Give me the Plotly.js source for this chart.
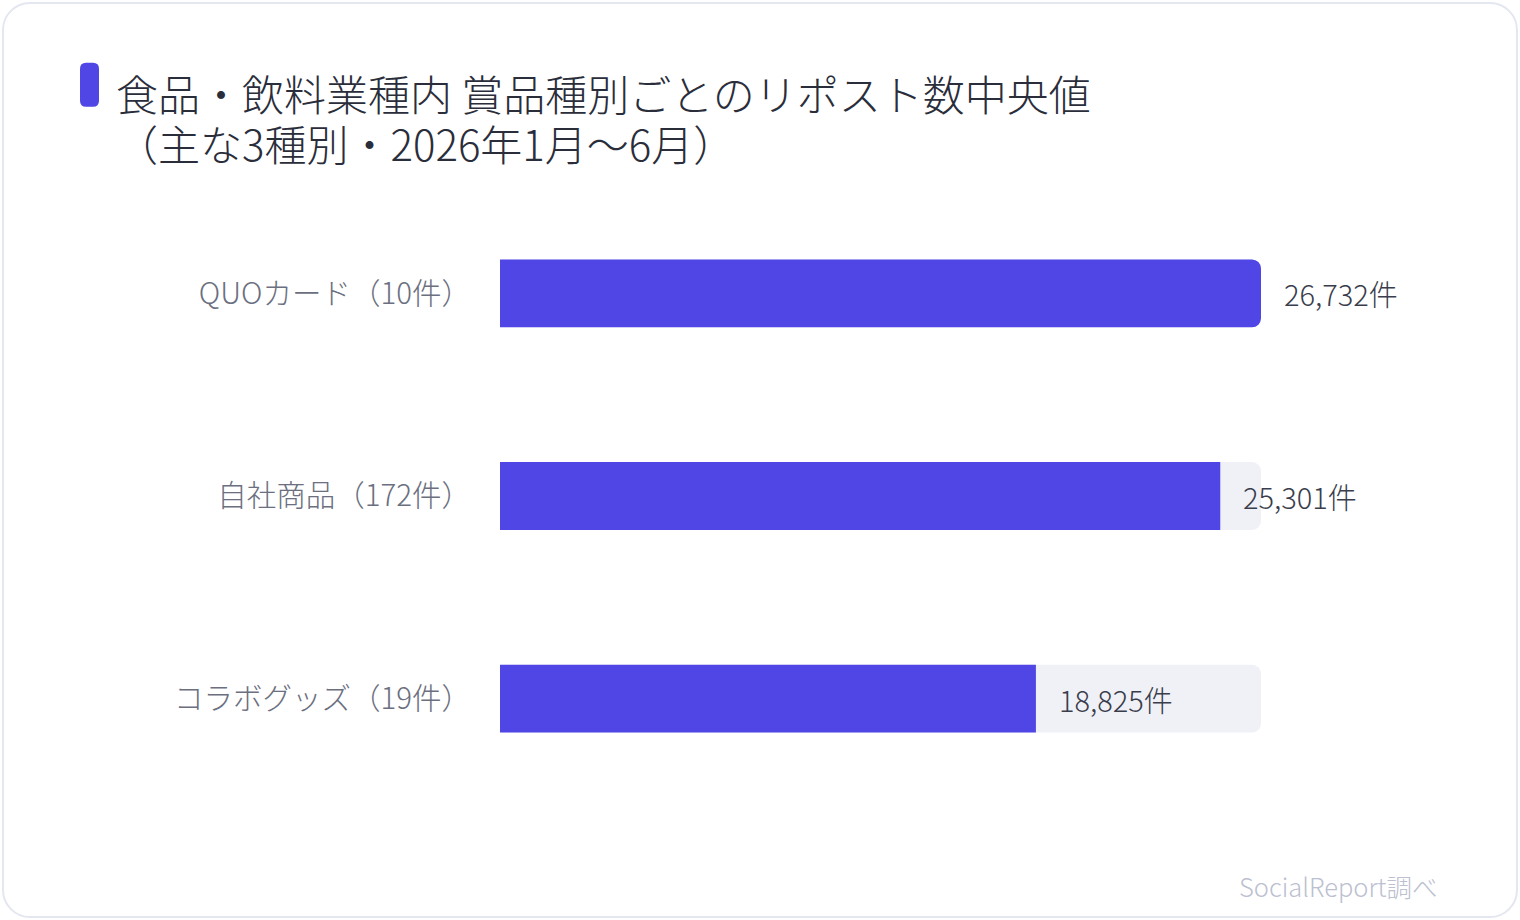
<!DOCTYPE html>
<html>
<head>
<meta charset="utf-8">
<script src="https://cdn.plot.ly/plotly-3.0.1.min.js"></script>
<style>
  html, body { margin: 0; padding: 0; background: #ffffff; }
  #wrap { position: relative; width: 1520px; height: 920px; }
  #card {
    position: absolute; left: 2px; top: 2px; width: 1512px; height: 912px;
    border: 2px solid #e4e7f0; border-radius: 28px; background: #ffffff;
  }
  #chart { position: absolute; left: 0; top: 0; width: 1520px; height: 920px; }
</style>
</head>
<body>
<div id="wrap">
  <div id="card"></div>
  <div id="chart"></div>
</div>
<script>
// ---- data ----------------------------------------------------------------
const categories = ["QUOカード（10件）", "自社商品（172件）", "コラボグッズ（19件）"];
const medianReposts = [26732, 25301, 18825];
const valueLabels = ["26,732件", "25,301件", "18,825件"];

const titleLine1 = "食品・飲料業種内 賞品種別ごとのリポスト数中央値";
const titleLine2 = "（主な3種別・2026年1月〜6月）";
const sourceNote = "SocialReport調べ";

// ---- look ----------------------------------------------------------------
const FONT = '"Noto Sans CJK JP Light", "Noto Sans CJK JP", "Noto Sans", sans-serif';
const BAR = "#4f46e5";
const TRACK = "#f0f1f7";

const W = 1520, H = 920;
const margin = { l: 500, r: 259, t: 191.5, b: 119.5 };
const plotW = W - margin.l - margin.r;
const plotH = H - margin.t - margin.b;

// page pixel -> paper coords
const px = (X) => (X - margin.l) / plotW;
const py = (Y) => 1 - (Y - margin.t) / plotH;

const maxValue = Math.max(...medianReposts);

// light grey track behind each bar, full length
const track = {
  type: "bar",
  orientation: "h",
  y: categories,
  x: categories.map(() => maxValue),
  width: 0.335,
  marker: { color: TRACK, cornerradius: 9 },
  hoverinfo: "skip",
  showlegend: false,
};

const bars = {
  type: "bar",
  orientation: "h",
  y: categories,
  x: medianReposts,
  width: 0.335,
  marker: { color: BAR, cornerradius: 9 },
  hoverinfo: "skip",
  showlegend: false,
};

const annotations = medianReposts.map((v, i) => ({
  x: v,
  y: categories[i],
  xref: "x",
  yref: "y",
  text: valueLabels[i],
  showarrow: false,
  xanchor: "left",
  yanchor: "middle",
  xshift: 21,
  font: { family: FONT, size: 29, color: "#3a3d4c", weight: 300 },
}));

const titleFont = { family: FONT, size: 42, color: "#2a2d3a", weight: 300 };
annotations.push(
  {
    x: px(114), y: py(92), xref: "paper", yref: "paper",
    text: titleLine1, showarrow: false, xanchor: "left", yanchor: "middle",
    font: titleFont,
  },
  {
    x: px(114), y: py(142), xref: "paper", yref: "paper",
    text: titleLine2, showarrow: false, xanchor: "left", yanchor: "middle",
    font: titleFont,
  },
  {
    x: px(1440), y: py(886), xref: "paper", yref: "paper",
    text: sourceNote, showarrow: false, xanchor: "right", yanchor: "middle",
    font: { family: FONT, size: 25.5, color: "#bcc0d0", weight: 300 },
  }
);

// accent mark left of the title (symmetric path, pixel sized)
const accent = {
  type: "path",
  xref: "paper", yref: "paper",
  xsizemode: "pixel", ysizemode: "pixel",
  xanchor: px(89.5), yanchor: py(84),
  path: "M -9.5 -16 L -9.5 16 Q -9.5 22 -3.5 22 L 3.5 22 Q 9.5 22 9.5 16 " +
        "L 9.5 -16 Q 9.5 -22 3.5 -22 L -3.5 -22 Q -9.5 -22 -9.5 -16 Z",
  fillcolor: BAR,
  line: { width: 0 },
};

const layout = {
  width: W,
  height: H,
  margin: margin,
  barmode: "overlay",
  paper_bgcolor: "rgba(0,0,0,0)",
  plot_bgcolor: "rgba(0,0,0,0)",
  font: { family: FONT },
  xaxis: {
    range: [0, maxValue],
    visible: false,
    fixedrange: true,
  },
  yaxis: {
    type: "category",
    autorange: "reversed",
    showgrid: false,
    zeroline: false,
    showline: false,
    ticks: "",
    ticklabelstandoff: 28,
    tickfont: { family: FONT, size: 29.5, color: "#6b6f80", weight: 300 },
    fixedrange: true,
  },
  annotations: annotations,
  shapes: [accent],
  hovermode: false,
};

const config = { staticPlot: true, displayModeBar: false };

Plotly.newPlot("chart", [track, bars], layout, config);
</script>
</body>
</html>
